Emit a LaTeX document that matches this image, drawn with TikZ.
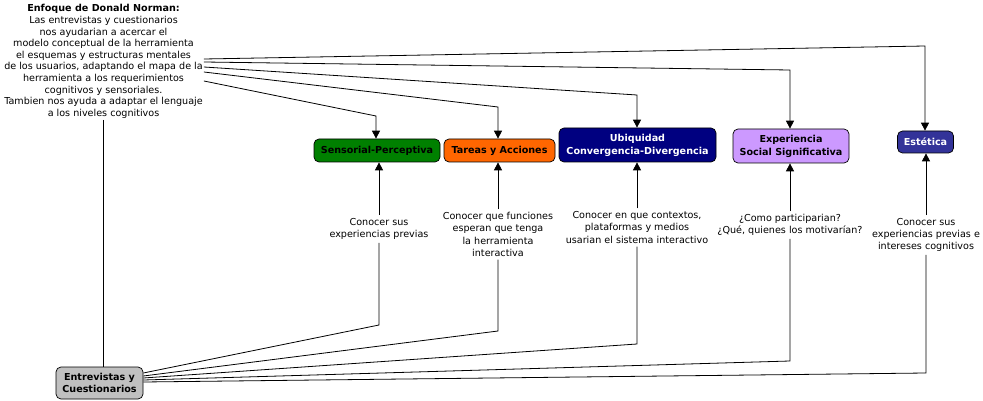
\documentclass[tikz,border=0pt]{standalone}
\usepackage{fontspec}
\setmainfont{DejaVu Sans}
\usetikzlibrary{arrows.meta,calc}
\definecolor{cgreen}{RGB}{0,128,0}
\definecolor{corange}{RGB}{255,102,0}
\definecolor{cnavy}{RGB}{0,0,128}
\definecolor{cpurple}{RGB}{204,153,255}
\definecolor{cindigo}{RGB}{51,51,153}
\definecolor{cgray}{RGB}{192,192,192}
\begin{document}
\begin{tikzpicture}[x=1pt,y=-1pt,
  concept/.style={draw=black, line width=0.7pt, rounded corners=5pt, inner sep=0pt, align=center,
    font=\fontsize{9.6}{12.8}\selectfont\bfseries},
  lbl/.style={align=center, inner sep=3pt, font=\fontsize{9.6}{12.2}\selectfont},
  conn/.style={line width=0.8pt, draw=black},
  arr/.style={conn, -{Triangle[width=8pt,length=8pt]}}]
\useasboundingbox (0,0) rectangle (983,401);
\fill[white] (0,0) rectangle (983,401);

% top text
\node[align=center, inner sep=1pt, font=\fontsize{9.6}{11.65}\selectfont] (norman) at (103.5,61.5)
 {\textbf{Enfoque de Donald Norman:}\\
  Las entrevistas y cuestionarios\\
  nos ayudarian a acercar el\\
  modelo conceptual de la herramienta\\
  el esquemas y estructuras mentales\\
  de los usuarios, adaptando el mapa de la\\
  herramienta a los requerimientos\\
  cognitivos y sensoriales.\\
  Tambien nos ayuda a adaptar el lenguaje\\
  a los niveles cognitivos};

% concepts
\node[concept, fill=cgreen, text=black, minimum width=126pt, minimum height=23pt] (sens) at (377,150.5) {Sensorial-Perceptiva};
\node[concept, fill=corange, text=black, minimum width=111pt, minimum height=23pt] (tar) at (499.5,150.5) {Tareas y Acciones};
\node[concept, fill=cnavy, text=white, minimum width=157pt, minimum height=34pt] (ubi) at (637.5,145) {Ubiquidad\\Convergencia-Divergencia};
\node[concept, fill=cpurple, text=black, minimum width=116pt, minimum height=34pt] (exp) at (791,146) {Experiencia\\Social Significativa};
\node[concept, fill=cindigo, text=white, minimum width=56pt, minimum height=22pt] (est) at (925.5,142) {Estética};
\node[concept, fill=cgray, text=black, minimum width=87pt, minimum height=32pt] (ent) at (99.5,383) {Entrevistas y\\Cuestionarios};

% labels
\node[lbl] (l1) at (379,229) {Conocer sus\\experiencias previas};
\node[lbl] (l2) at (498,234.5) {Conocer que funciones\\esperan que tenga\\la herramienta\\interactiva};
\node[lbl] (l3) at (637,227.5) {Conocer en que contextos,\\plataformas y medios\\usarian el sistema interactivo};
\node[lbl] (l4) at (790,225) {¿Como participarian?\\¿Qué, quienes los motivarían?};
\node[lbl] (l5) at (926,235) {Conocer sus\\experiencias previas e\\intereses cognitivos};

% top bends
\coordinate (t1) at (376,116);
\coordinate (t2) at (498,107);
\coordinate (t3) at (637,95);
\coordinate (t4) at (790,70);
\coordinate (t5) at (925,46);

% bottom bends
\coordinate (b1) at (379,325);
\coordinate (b2) at (498,331);
\coordinate (b3) at (637,344);
\coordinate (b4) at (790,361);
\coordinate (b5) at (926,373);

% norman to entrevistas
\draw[conn] (norman.south) -- (norman.south |- ent.north);

% norman to concepts
\draw[arr] ([yshift=2.5pt]norman.east) -- (t5) -- (t5 |- est.north);
\draw[arr] ([yshift=-0.5pt]norman.east) -- (t4) -- (t4 |- exp.north);
\draw[arr] ([yshift=-5.5pt]norman.east) -- (t3) -- (t3 |- ubi.north);
\draw[arr] ([yshift=-10.5pt]norman.east) -- (t2) -- (t2 |- tar.north);
\draw[arr] ([yshift=-19.5pt]norman.east) -- (t1) -- (t1 |- sens.north);

% entrevistas to labels
\draw[conn] ([yshift=10pt]ent.east) -- (b1) -- (l1.south);
\draw[conn] ([yshift=7pt]ent.east) -- (b2) -- (l2.south);
\draw[conn] ([yshift=5pt]ent.east) -- (b3) -- (l3.south);
\draw[conn] ([yshift=3pt]ent.east) -- (b4) -- (l4.south);
\draw[conn] ([yshift=1pt]ent.east) -- (b5) -- (l5.south);

% labels to concepts
\draw[arr] (l1.north) -- (l1.north |- sens.south);
\draw[arr] (l2.north) -- (l2.north |- tar.south);
\draw[arr] (l3.north) -- (l3.north |- ubi.south);
\draw[arr] (l4.north) -- (l4.north |- exp.south);
\draw[arr] (l5.north) -- (l5.north |- est.south);
\end{tikzpicture}
\end{document}
